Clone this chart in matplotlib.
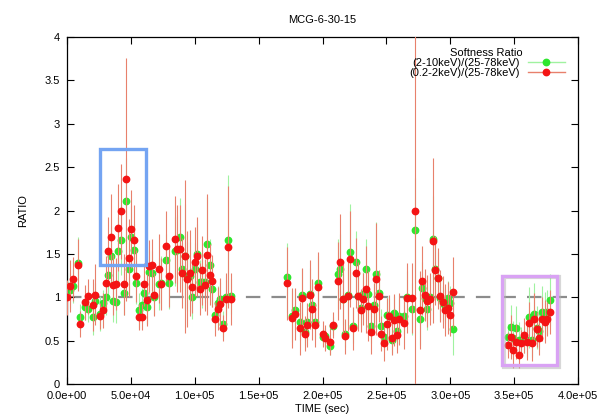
import numpy as np
import matplotlib
matplotlib.use('Agg')
import matplotlib.pyplot as plt
from matplotlib.lines import Line2D
from matplotlib.patches import Rectangle

plt.rcParams['font.family'] = ['Liberation Sans', 'DejaVu Sans']

# time bins (sec)
time = [0, 2344, 4427, 8333, 10156, 14063, 16146, 20052, 21875, 25781, 27865, 30208,
        32292, 34375, 36198, 38281, 40104, 42188, 44271, 46354, 48177, 50260, 52344,
        54167, 56250, 58333, 60417, 62240, 64323, 66146, 68229, 72135, 73958, 77865,
        79948, 84375, 86198, 88281, 90104, 92188, 94010, 96094, 98177, 100000, 102083,
        103906, 105990, 107813, 109896, 111719, 113802, 116146, 117969, 120052, 122135,
        124219, 126302, 128385,
        172135, 176302, 178125, 182031, 184115, 185938, 188021, 190104, 191927, 194010,
        196094, 200260, 202083, 205990, 208073, 211979, 214063, 215885, 217969, 220052,
        221875, 223958, 226042, 228125, 229948, 232031, 234115, 235938, 238021, 240104,
        242188, 244010, 246094, 248177, 250260, 252083, 254167, 256250, 258073, 260156,
        264063, 265885, 270052, 272135, 276042, 277865, 279948, 282031, 284115, 286198,
        288021, 290104, 292188, 294271, 296094, 298177, 300000, 302083,
        345313, 347396, 349479, 351823, 353906, 355729, 357813, 359896, 361719, 363802,
        365625, 367708, 369531, 372135, 373958, 376042, 377865]

# (2-10keV)/(25-78keV)
hard = [1.13, 1.08, 1.13, 1.40, 0.77, 0.89, 0.87, 0.77, 0.96, 0.81, 0.93, 1.00,
        1.26, 1.47, 0.96, 0.95, 1.53, 1.66, 1.05, 2.11, 1.33, 1.70, 1.55,
        1.17, 0.85, 0.91, 1.05, 0.89, 1.29, 1.28, 1.00, 1.15, 1.17, 1.43,
        1.16, 1.53, 1.55, 1.69, 1.32, 1.47, 1.24, 1.24, 1.00, 1.33, 1.50,
        1.18, 1.18, 1.18, 1.61, 1.37, 1.09, 0.80, 0.93, 0.98, 0.69,
        1.00, 1.66, 1.01,
        1.23, 0.78, 0.85, 0.71, 1.03, 0.60, 0.71, 1.04, 0.91, 0.72,
        1.17, 0.54, 0.55, 0.44, 0.67, 1.27, 1.33, 0.98, 0.58, 1.03,
        1.52, 0.67, 1.41, 1.01, 0.88, 1.04, 1.32, 1.04, 0.67, 0.91,
        1.27, 1.05, 0.67, 0.54, 0.80, 0.78, 0.51, 0.82, 0.61, 0.78,
        0.78, 1.00, 0.86, 1.77, 0.75, 1.11, 0.99, 0.87, 1.00, 1.67,
        1.32, 1.22, 0.99, 0.93, 0.90, 0.99, 0.93, 0.63,
        0.54, 0.66, 0.53, 0.65, 0.51, 0.51, 0.51, 0.51, 0.77, 0.51,
        0.81, 0.65, 0.61, 0.83, 0.81, 0.83, 0.97]
hard_err = [0.15, 0.20, 0.20, 0.30, 0.15, 0.15, 0.15, 0.20, 0.20, 0.20, 0.15, 0.20,
            0.30, 0.35, 0.25, 0.25, 0.40, 0.40, 0.25, 0.50, 0.30, 0.35, 0.30,
            0.25, 0.20, 0.20, 0.20, 0.20, 0.25, 0.25, 0.20, 0.30, 0.30, 0.30,
            0.30, 0.40, 0.40, 0.45, 0.30, 0.60, 0.40, 0.40, 0.25, 0.30, 0.35,
            0.25, 0.30, 0.25, 0.55, 0.30, 0.20, 0.15, 0.20, 0.20, 0.15,
            0.20, 0.75, 0.20,
            0.40, 0.30, 0.25, 0.20, 0.30, 0.15, 0.20, 0.30, 0.25, 0.20,
            0.30, 0.10, 0.10, 0.10, 0.10, 0.40, 0.40, 0.30, 0.15, 0.35,
            0.55, 0.20, 0.35, 0.30, 0.20, 0.25, 0.35, 0.30, 0.20, 0.25,
            0.60, 0.25, 0.20, 0.15, 0.20, 0.20, 0.15, 0.20, 0.15, 0.20,
            0.20, 0.30, 0.30, 0.60, 0.30, 0.30, 0.25, 0.25, 0.25, 0.50,
            0.35, 0.30, 0.25, 0.20, 0.20, 0.20, 0.20, 0.30,
            0.15, 0.25, 0.20, 0.25, 0.20, 0.15, 0.15, 0.20, 0.35, 0.20,
            0.35, 0.25, 0.20, 0.30, 0.25, 0.25, 0.30]

# (0.2-2keV)/(25-78keV)
soft = [1.00, 1.13, 1.21, 1.37, 0.69, 0.94, 1.01, 0.91, 1.03, 0.78, 0.85, 1.17,
        1.53, 1.69, 1.14, 1.15, 1.80, 1.99, 1.15, 2.36, 1.45, 1.79, 1.66,
        1.25, 0.77, 0.77, 1.15, 0.97, 1.36, 1.37, 1.03, 1.33, 1.15, 1.59,
        1.24, 1.67, 1.56, 1.56, 1.28, 1.47, 1.21, 1.28, 1.12, 1.41, 1.47,
        1.10, 1.31, 1.14, 1.49, 1.26, 1.19, 0.75, 0.87, 0.92, 0.65,
        0.98, 1.58, 0.98,
        1.16, 0.76, 0.81, 0.64, 0.99, 0.58, 0.68, 1.03, 0.86, 0.68,
        1.12, 0.58, 0.53, 0.49, 0.68, 1.19, 1.41, 0.98, 0.55, 1.01,
        1.44, 0.64, 1.28, 1.01, 0.85, 0.98, 1.09, 0.90, 0.60, 0.87,
        1.21, 1.01, 0.58, 0.47, 0.69, 0.78, 0.53, 0.74, 0.56, 0.75,
        0.70, 0.99, 0.99, 2.00, 0.85, 1.19, 1.03, 0.96, 0.98, 1.65,
        1.31, 1.22, 1.01, 0.95, 0.85, 0.88, 0.80, 1.06,
        0.45, 0.54, 0.39, 0.49, 0.33, 0.47, 0.56, 0.48, 0.70, 0.47,
        0.75, 0.63, 0.53, 0.75, 0.72, 0.75, 0.83]
soft_err = [0.20, 0.30, 0.25, 0.30, 0.15, 0.20, 0.20, 0.30, 0.35, 0.15, 0.20, 0.30,
            0.40, 0.50, 0.35, 0.30, 0.50, 0.55, 0.35, 1.40, 0.45, 0.45, 0.40,
            0.30, 0.15, 0.15, 0.25, 0.30, 0.30, 0.30, 0.25, 0.40, 0.30, 0.40,
            0.35, 0.50, 0.50, 0.50, 0.40, 0.88, 0.55, 0.50, 0.30, 0.40, 0.45,
            0.30, 0.40, 0.30, 0.70, 0.35, 0.30, 0.20, 0.25, 0.30, 0.15,
            0.30, 0.70, 0.30,
            0.42, 0.35, 0.30, 0.30, 0.35, 0.20, 0.25, 0.40, 0.35, 0.25,
            0.40, 0.15, 0.15, 0.15, 0.15, 0.45, 0.55, 0.40, 0.20, 0.40,
            0.55, 0.25, 0.40, 0.40, 0.25, 0.30, 0.50, 0.40, 0.25, 0.30,
            0.65, 0.30, 0.20, 0.20, 0.30, 0.25, 0.20, 0.30, 0.20, 0.30,
            0.30, 0.40, 0.40, 2.20, 0.45, 0.40, 0.30, 0.30, 0.30, 0.95,
            0.40, 0.35, 0.30, 0.30, 0.30, 0.30, 0.25, 0.40,
            0.15, 0.25, 0.20, 0.20, 0.15, 0.15, 0.20, 0.20, 0.25, 0.20,
            0.30, 0.20, 0.20, 0.25, 0.25, 0.20, 0.25]

labels = ['(2-10keV)/(25-78keV)', '(0.2-2keV)/(25-78keV)']
xticks = np.arange(0, 4.01e5, 5e4)
xticklabels = ['%.1e' % v for v in xticks]
yticks = [0, 0.5, 1, 1.5, 2, 2.5, 3, 3.5, 4]
yticklabels = ['0', '0.5', '1', '1.5', '2', '2.5', '3', '3.5', '4']

green = '#2ee62e'
green_bar = '#a0f2a0'
red = '#f41414'
red_bar = '#e8806c'

fig = plt.figure(figsize=(6.01, 4.18), dpi=100)
ax = fig.add_axes([0.1115, 0.0813, 0.8503, 0.8302])

ax.axhline(1, color='#8c8c8c', lw=1.6, linestyle=(0, (6.5, 5)), zorder=1)

ax.errorbar(time, hard, yerr=hard_err, fmt='o', color=green, ms=4.6, mec=green,
            ecolor=green_bar, elinewidth=0.8, capsize=0, zorder=2)
ax.errorbar(time, soft, yerr=soft_err, fmt='o', color=red, ms=4.6, mec=red,
            ecolor=red_bar, elinewidth=0.8, capsize=0, zorder=3)

# highlighted regions
ax.add_patch(Rectangle((25800, 1.37), 35900, 1.34, fill=False, ec='#74a4f2', lw=2.4, zorder=4))
ax.add_patch(Rectangle((342000, 0.20), 43000, 1.03, fill=False, ec='#b0b0b0', lw=3, alpha=0.5, zorder=4))
ax.add_patch(Rectangle((340600, 0.22), 43000, 1.03, fill=False, ec='#d9a2f4', lw=2.4, zorder=4))

ax.set_xlim(0, 4e5)
ax.set_ylim(0, 4)
ax.set_xticks(xticks)
ax.set_xticklabels(xticklabels)
ax.set_yticks(yticks)
ax.set_yticklabels(yticklabels)
ax.tick_params(direction='in', length=5, width=0.8, labelsize=8, top=True, right=True)
ax.tick_params(axis='x', pad=5)
ax.tick_params(axis='y', pad=5)
for s in ax.spines.values():
    s.set_linewidth(0.9)

ax.set_title('MCG-6-30-15', fontsize=8, pad=10)
ax.set_xlabel('TIME (sec)', fontsize=8, labelpad=2)
ax.set_ylabel('RATIO', fontsize=8, labelpad=12)

handles = [Line2D([], [], color=green_bar, lw=1, marker='o', ms=4.6, mfc=green, mec=green),
           Line2D([], [], color=red_bar, lw=1, marker='o', ms=4.6, mfc=red, mec=red)]
ax.legend(handles, labels, title='Softness Ratio', loc='upper right', frameon=False,
          markerfirst=False, fontsize=8, title_fontsize=8, handlelength=3.3,
          handletextpad=0.8, borderaxespad=0.1, labelspacing=0.0,
          bbox_to_anchor=(0.985, 0.985))

fig.savefig('out.png', dpi=100)
